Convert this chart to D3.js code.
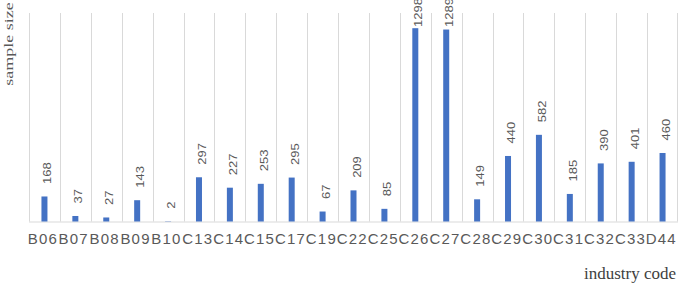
<!DOCTYPE html>
<meta charset="utf-8">
<head>
  <title>Sample size by industry</title>
</head>

<style>
body { margin: 0; background: #fff; }
.grid line {
  stroke: #d9d9d9;
  stroke-width: 1;
}
.bar {
  fill: #4472c4;
}
.lbl {
  font-family: "Liberation Sans", Arial, sans-serif;
  font-size: 13px;
  fill: #595959;
}
.tick-lbl {
  font-family: "Liberation Sans", Arial, sans-serif;
  font-size: 15px;
  fill: #595959;
  letter-spacing: 1.2px;
}
.title {
  font-family: "Liberation Serif", "Times New Roman", serif;
  font-size: 17px;
  fill: #404040;
}
</style>

<body>
  <svg width="678" height="283"></svg>

  <script src="https://cdnjs.cloudflare.com/ajax/libs/d3/7.8.5/d3.min.js"></script>
  <script>
var width = 678, height = 283

var codes = ['B06','B07','B08','B09','B10','C13','C14','C15','C17','C19','C22',
             'C25','C26','C27','C28','C29','C30','C31','C32','C33','D44']
var samples = [168, 37, 27, 143, 2, 297, 227, 253, 295, 67, 209,
               85, 1298, 1289, 149, 440, 582, 185, 390, 401, 460]

var plotLeft = 29, plotRight = 678, plotTop = 13, plotBottom = 221.5

var svg = d3.select('svg')

var x = d3.scaleBand()
  .domain(codes)
  .range([plotLeft, plotRight])
  .paddingInner(0)

var y = d3.scaleLinear()
  .domain([0, 1400])
  .range([plotBottom, plotTop])

// vertical separators between categories
var edges = codes.map(function(c) { return x(c) })
edges.push(plotRight - 1)

svg.append('g').attr('class', 'grid')
  .selectAll('line')
  .data(edges)
  .enter()
  .append('line')
  .attr('x1', function(d) { return Math.round(d) + 0.5 })
  .attr('x2', function(d) { return Math.round(d) + 0.5 })
  .attr('y1', y(1400))
  .attr('y2', plotBottom)

// baseline
svg.append('g').attr('class', 'grid')
  .append('line')
  .attr('x1', plotLeft)
  .attr('x2', plotRight)
  .attr('y1', plotBottom + 0.5)
  .attr('y2', plotBottom + 0.5)

var barW = 6

svg.append('g')
  .selectAll('rect')
  .data(samples)
  .enter()
  .append('rect')
  .attr('class', 'bar')
  .attr('x', function(d, i) { return x(codes[i]) + x.bandwidth() / 2 - barW / 2 })
  .attr('y', function(d) { return y(d) })
  .attr('width', barW)
  .attr('height', function(d) { return plotBottom - y(d) })

// rotated value labels (a little squeezed sideways like the original)
svg.append('g')
  .selectAll('text')
  .data(samples)
  .enter()
  .append('text')
  .attr('class', 'lbl')
  .attr('transform', function(d, i) {
    var cx = x(codes[i]) + x.bandwidth() / 2 + 7
    var cy = Math.max(y(d) - 12.5, 27)
    return 'translate(' + cx + ',' + cy + ') scale(0.8,1) rotate(-90)'
  })
  .text(function(d) { return d })

// category labels, packed edge to edge
svg.append('g')
  .selectAll('text')
  .data(codes)
  .enter()
  .append('text')
  .attr('class', 'tick-lbl')
  .attr('x', function(d) { return x(d) - 1.3 })
  .attr('y', 243.5)
  .text(function(d) { return d })

// axis titles
svg.append('text')
  .attr('class', 'title')
  .style('font-size', '18px')
  .style('fill', '#595959')
  .attr('transform', 'translate(13,44) scale(0.75,1) rotate(-90)')
  .attr('text-anchor', 'middle')
  .text('sample size')

svg.append('text')
  .attr('class', 'title')
  .attr('x', 676)
  .attr('y', 278.5)
  .attr('text-anchor', 'end')
  .text('industry code')
  </script>
</body>
</html>
